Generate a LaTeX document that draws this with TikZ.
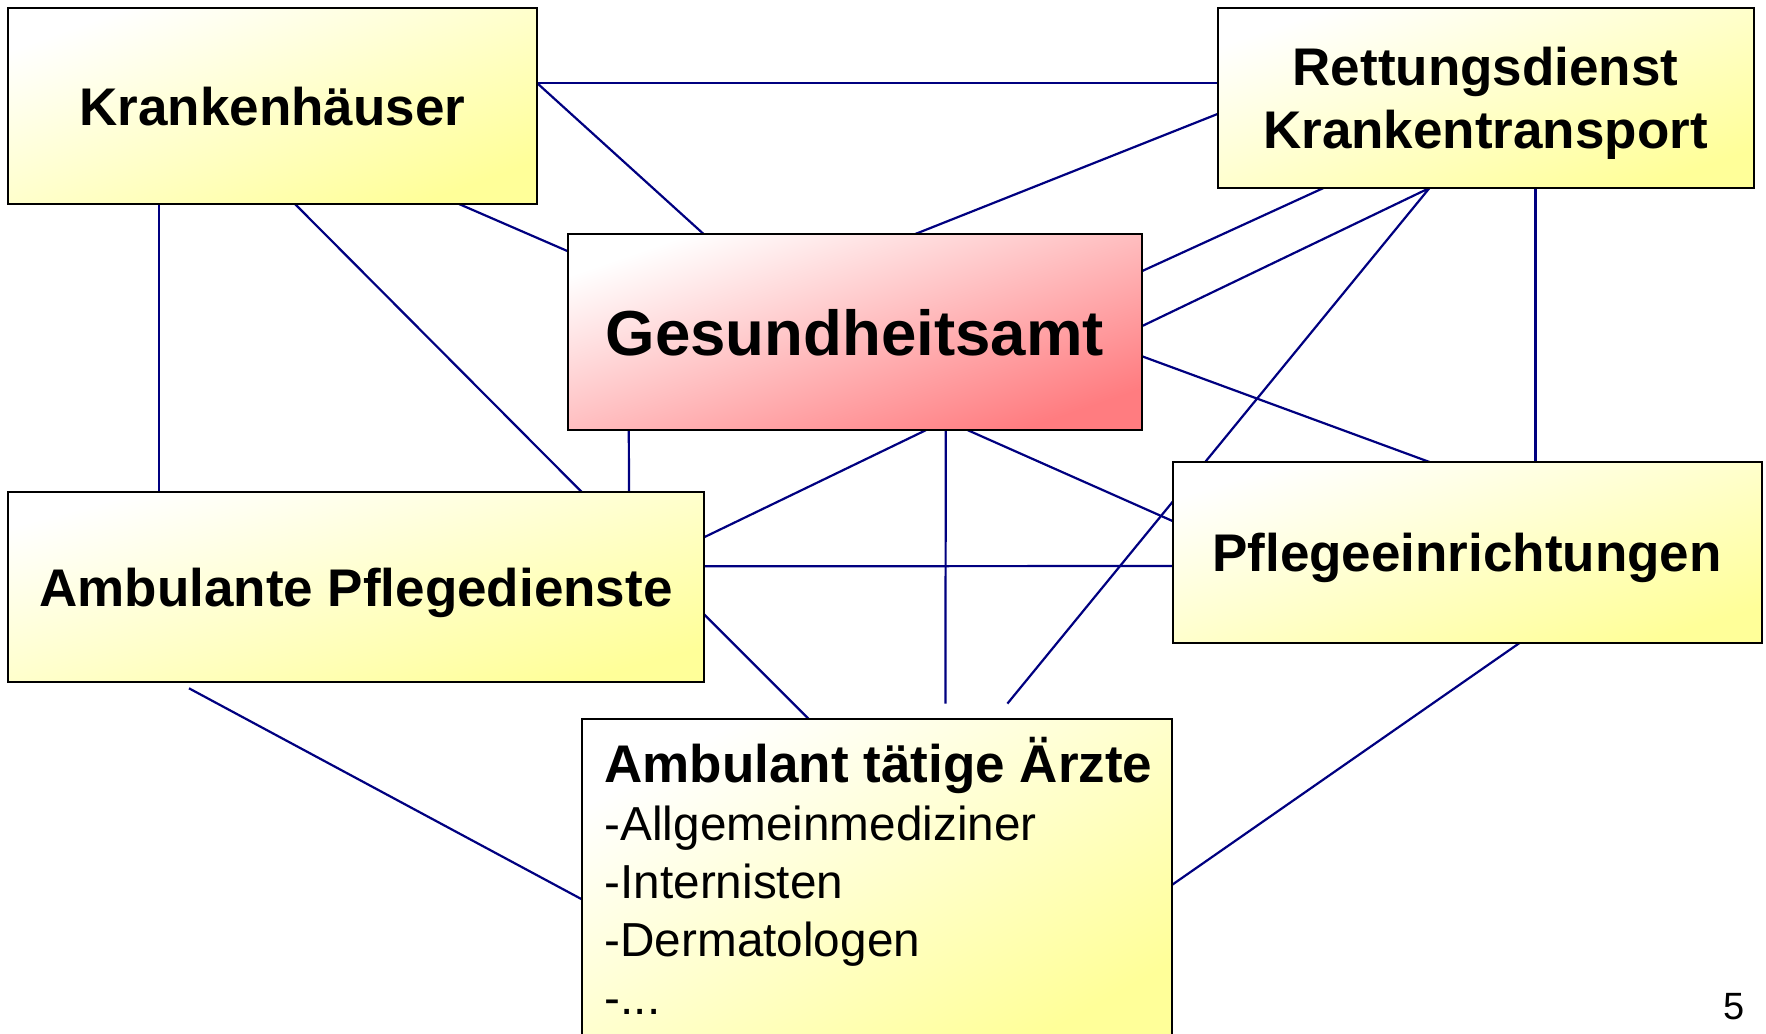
\documentclass[tikz,border=0pt]{standalone}
\usepackage{fontspec}
\setmainfont{Liberation Sans}
\definecolor{hiyellow}{HTML}{FFFF99}
\definecolor{hired}{HTML}{FF7C80}
\definecolor{linkblue}{HTML}{000080}
\usetikzlibrary{calc, backgrounds}
\tikzset{
  box/.style={draw=black, line width=2pt, outer sep=0pt, inner sep=0pt, align=center,
              top color=white, bottom color=hiyellow, shading angle=20, text depth=0pt,
              font=\bfseries\fontsize{53}{63}\selectfont},
  link/.style={draw=linkblue, line width=2.2pt},
}
\begin{document}
\begin{tikzpicture}[x=1pt,y=-1pt,
rb/.style={box,bottom color=hired,font=\bfseries\fontsize{63.6}{76}\selectfont}]
\useasboundingbox (0,0) rectangle (1766,1033);
\node[box,shading angle=20,minimum width=529pt,minimum height=196pt] (kh) at (272.5,106) {Krankenhäuser};
\node[box,shading angle=19,minimum width=536pt,minimum height=180pt] (rd) at (1485.5,98) {Rettungsdienst\\Krankentransport};
\node[rb,shading angle=19,minimum width=574pt,minimum height=196pt] (ga) at (854.8,332.2) {Gesundheitsamt};
\node[box,shading angle=15,minimum width=696pt,minimum height=190pt] (apd) at (356,587.3) {Ambulante Pflegedienste};
\node[box,shading angle=17,minimum width=589pt,minimum height=181pt] (pfe) at (1467,552.5) {Pflegeeinrichtungen};
\node[box,shading angle=29,minimum width=590pt,minimum height=332pt] (arz) at (877.4,884.6) {};
\node[anchor=north west,align=left,inner sep=0pt,font=\fontsize{47.7}{58}\selectfont] (arztx)
  at ($(arz.north west)+(22,18)$) {{\bfseries\fontsize{53}{58}\selectfont Ambulant tätige Ärzte}\\-Allgemeinmediziner\\-Internisten\\-Dermatologen\\-...};
\node[font=\fontsize{38}{46}\selectfont] (pg) at (1734.5,1007) {5};
\begin{scope}[on background layer]
\draw[link] ($(kh.north east)+(0,75)$)--($(rd.north west)+(0,75)$);
\draw[link] ($(kh.north east)+(0,75)$)--($(ga.north west)+(136,0)$);
\draw[link] ($(kh.south west)+(451,0)$)--($(ga.north west)+(0,17)$);
\draw[link] ($(kh.south west)+(151,0)$)--($(apd.north west)+(151,0)$);
\draw[link] ($(kh.south west)+(287,0)$)--($(apd.north west)+(574,0)$);
\draw[link] ($(rd.north west)+(0,106)$)--($(ga.north west)+(347,0)$);
\draw[link] ($(rd.south west)+(106,0)$)--($(ga.north east)+(0,37)$);
\draw[link] ($(rd.south west)+(212,0)$)--($(ga.north east)+(0,92)$);
\draw[link] ($(rd.south west)+(212,0)$)--($(arz.north west)+(425,-15)$);
\draw[link] ($(rd.south west)+(318,0)$)--($(pfe.north west)+(363,0)$);
\draw[link] ($(ga.north east)+(0,122)$)--($(pfe.north west)+(257,0)$);
\draw[link] ($(ga.south west)+(61,0)$)--($(apd.north west)+(621,0)$);
\draw[link] ($(ga.south west)+(358,0)$)--($(apd.north east)+(0,45)$);
\draw[link] ($(ga.south west)+(378,0)$)--($(arz.north west)+(363,-15)$);
\draw[link] ($(ga.south west)+(400,0)$)--($(pfe.north west)+(0,59)$);
\draw[link] ($(apd.north east)+(0,74)$)--($(pfe.north west)+(0,104)$);
\draw[link] ($(apd.north east)+(0,122)$)--($(arz.north west)+(226,0)$);
\draw[link] ($(apd.south west)+(181,6)$)--($(arz.north west)+(0,181)$);
\draw[link] ($(pfe.south west)+(347,0)$)--($(arz.north east)+(0,166)$);
\end{scope}
\end{tikzpicture}
\end{document}
